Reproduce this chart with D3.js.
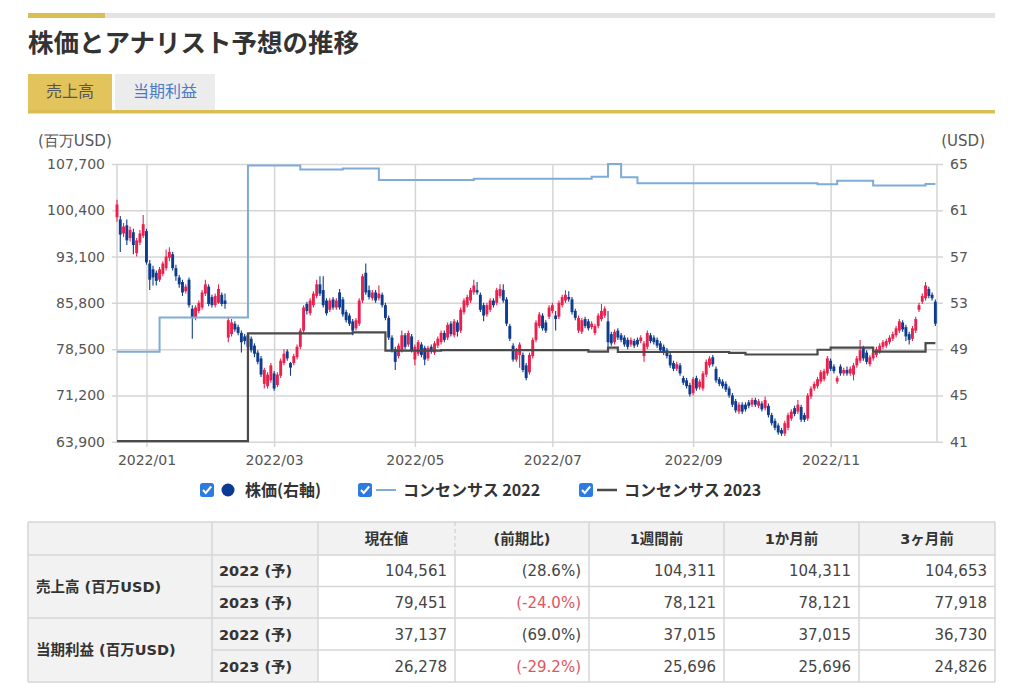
<!DOCTYPE html>
<html><head><meta charset="utf-8">
<script src="https://cdn.jsdelivr.net/npm/d3@7"></script>
<style>
body{margin:0;background:#fff;}
svg{display:block;font-family:"DejaVu Sans",Verdana,"Noto Sans CJK JP",sans-serif;}
</style></head><body>
<svg id="c" width="1024" height="683"></svg>
<script>
// ---------- DATA ----------
const titleText = "株価とアナリスト予想の推移";
const tabLabels = ["売上高", "当期利益"];
const leftAxisTitle = "(百万USD)";
const rightAxisTitle = "(USD)";
const leftTicks = [63900, 71200, 78500, 85800, 93100, 100400, 107700];
const rightTicks = [41, 45, 49, 53, 57, 61, 65];
// trading-day index (0 = 2022/01/03)
const monthTickIndex = [0, 39, 82, 124, 167, 209];
const monthTickLabels = ["2022/01", "2022/03", "2022/05", "2022/07", "2022/09", "2022/11"];
const startIndex = -9;   // first candle: 2021/12/20
// daily candles [open, high, low, close] in USD
const priceOHLC = [
[60.4,61.9,60.0,61.5],[60.2,60.5,57.4,58.9],[59.0,59.9,58.7,59.6],[59.7,60.2,58.0,58.4],[58.6,59.6,58.3,59.3],
[59.1,59.4,57.2,58.0],[57.3,58.6,57.0,58.4],[58.2,59.3,58.0,59.0],[58.8,60.6,58.6,59.8],[59.2,59.4,56.3,56.5],
[56.4,56.7,54.1,55.0],[55.9,56.2,54.5,55.2],[55.6,55.8,54.5,54.9],[55.0,56.1,54.8,55.9],[55.5,56.6,55.3,56.4],
[56.0,57.6,55.8,57.0],[56.9,57.8,56.6,57.4],[57.2,57.4,55.8,56.0],[56.0,56.3,54.9,55.3],[55.2,55.4,54.3,54.6],
[54.8,55.0,53.6,53.9],[54.0,54.6,53.8,54.4],[55.0,55.2,52.6,52.8],[52.5,52.8,49.9,51.7],[51.7,52.8,51.5,52.6],
[52.3,53.2,52.1,53.0],[52.6,54.1,52.4,53.9],[53.8,55.0,53.6,54.6],[54.4,54.6,52.7,52.9],[53.5,53.7,52.6,52.8],
[52.8,53.8,52.6,53.6],[53.0,54.6,52.9,54.2],[53.7,53.9,52.7,52.9],[53.2,53.8,52.5,52.9],[50.0,51.8,49.6,51.5],
[50.3,51.6,50.1,51.3],[51.2,51.4,50.5,50.7],[50.9,51.1,50.2,50.4],[50.4,50.6,48.7,49.6],[50.1,50.3,49.4,49.7],
[50.2,50.4,49.0,49.2],[49.9,50.1,48.7,48.9],[49.3,49.5,48.3,48.6],[48.7,48.9,47.7,47.9],[48.2,48.4,46.6,46.8],
[46.0,47.4,45.6,47.2],[45.8,47.0,45.6,46.8],[46.3,47.8,46.1,47.6],[46.9,47.1,45.4,45.6],[45.9,47.0,45.7,46.8],
[46.7,48.2,46.5,48.0],[47.8,49.0,47.6,48.6],[48.8,49.0,48.0,48.2],[47.8,47.9,46.7,47.4],[47.8,48.6,47.6,48.4],
[48.3,49.4,48.1,49.2],[49.2,50.8,49.0,50.6],[50.6,52.8,50.4,52.6],[52.9,53.1,52.0,52.3],[52.1,53.4,51.9,53.2],
[52.8,54.0,52.6,53.8],[53.6,55.0,53.4,54.6],[54.6,55.3,53.6,53.8],[54.1,55.3,52.6,52.8],[53.2,53.4,51.9,52.1],
[52.4,53.4,52.2,53.2],[53.3,53.5,52.4,52.6],[52.6,53.4,52.4,53.2],[53.9,54.2,52.4,52.6],[53.3,53.5,51.8,52.0],
[52.2,52.4,51.3,51.5],[51.9,52.1,51.0,51.2],[51.4,51.6,50.2,50.6],[50.8,51.7,50.6,51.5],[51.2,53.4,51.0,53.2],
[53.2,55.5,53.0,55.3],[55.6,56.4,53.7,53.9],[54.1,54.5,53.3,53.5],[53.4,54.1,53.2,53.9],[53.9,54.1,53.0,53.2],
[53.4,54.5,53.2,53.8],[53.7,53.9,52.6,52.8],[52.8,53.0,51.5,51.7],[51.7,51.9,49.8,50.0],[50.0,50.2,48.7,48.9],
[49.0,49.2,47.2,47.9],[48.4,49.5,48.2,49.3],[48.9,50.6,48.7,50.2],[50.2,50.4,49.0,49.2],[49.4,50.6,49.2,50.4],
[50.1,50.3,48.7,48.9],[48.1,49.4,47.6,49.2],[48.6,49.8,48.4,49.6],[49.4,49.6,48.3,48.5],[49.1,49.3,47.6,48.1],
[48.2,49.3,48.0,49.1],[49.2,49.4,48.6,48.8],[48.7,49.7,48.5,49.5],[49.3,50.1,49.1,49.9],[49.6,50.6,49.4,50.4],
[50.4,50.6,49.6,49.8],[50.0,51.3,49.8,51.1],[51.2,51.4,50.1,50.3],[50.2,51.6,50.0,51.4],[51.3,51.5,50.1,50.5],
[50.6,52.6,50.4,52.4],[52.2,53.4,52.0,53.2],[52.8,53.7,52.6,53.5],[53.2,54.3,53.0,54.1],[53.9,55.0,53.7,54.5],
[54.1,54.8,53.7,53.9],[53.7,53.9,52.2,52.4],[52.8,53.0,51.4,51.9],[52.0,53.0,51.8,52.8],[52.4,53.4,52.2,53.2],
[53.2,53.4,52.6,52.8],[53.0,54.3,52.8,54.1],[53.6,54.6,53.4,54.2],[54.1,54.6,53.0,53.2],[53.3,53.5,51.0,51.2],
[51.0,51.2,49.7,49.9],[49.3,49.5,47.9,48.1],[48.1,49.1,47.9,48.9],[48.5,49.6,47.4,49.4],[48.5,48.7,47.0,47.2],
[47.6,47.8,46.3,46.5],[47.0,48.7,46.8,48.5],[48.4,50.0,48.2,49.8],[49.8,51.5,49.6,51.3],[51.0,52.2,50.8,52.0],
[51.9,52.1,50.6,50.8],[51.3,51.5,50.4,50.6],[51.8,52.8,51.6,52.6],[52.3,53.0,52.1,52.8],[51.9,52.3,50.6,51.6],
[51.8,53.2,51.6,53.0],[52.8,53.7,52.6,53.5],[53.2,54.1,53.0,53.7],[53.5,54.0,53.1,53.3],[53.3,53.5,52.0,52.2],
[52.3,52.5,51.5,51.7],[50.6,51.9,50.4,51.7],[50.5,51.7,50.3,51.5],[51.6,51.8,50.8,51.0],[51.4,51.6,50.6,50.8],
[50.9,51.4,50.7,51.2],[50.4,51.2,50.2,51.0],[51.0,52.1,50.8,51.9],[51.6,52.9,51.4,52.3],[51.9,52.7,51.7,52.5],
[51.4,52.3,49.2,49.6],[50.3,50.5,49.3,49.5],[49.6,50.7,49.4,50.5],[50.6,50.8,49.8,50.0],[50.2,50.4,49.6,49.8],
[50.0,50.2,49.2,49.4],[49.8,50.0,49.0,49.2],[49.4,50.0,49.2,49.8],[49.7,49.9,49.1,49.3],[49.8,50.0,49.2,49.4],
[49.7,50.2,49.5,50.0],[48.4,49.7,47.9,49.5],[49.2,50.6,49.0,50.4],[50.2,50.4,49.5,49.7],[50.0,50.2,49.4,49.6],
[49.8,50.0,49.1,49.3],[49.5,49.7,48.7,48.9],[49.2,49.4,48.5,48.7],[48.9,49.1,48.2,48.4],[48.5,48.7,47.4,47.6],
[47.8,48.0,47.1,47.3],[47.3,47.9,47.1,47.7],[47.6,47.8,46.7,46.9],[46.5,46.7,45.9,46.1],[46.3,46.5,45.6,45.8],
[45.9,46.1,44.9,45.1],[45.2,46.6,45.0,46.4],[46.5,46.7,45.4,45.6],[45.7,46.4,45.5,46.2],[45.6,47.1,45.4,46.9],
[46.8,48.1,46.6,47.9],[47.6,48.4,47.4,48.2],[48.3,48.5,47.5,47.7],[47.3,47.5,46.1,46.3],[46.4,46.6,45.8,46.0],
[46.2,46.4,45.6,45.8],[46.0,46.2,45.3,45.5],[45.6,45.8,44.8,45.0],[45.0,45.2,44.0,44.2],[44.5,44.7,43.5,43.7],
[43.6,44.4,43.4,44.2],[44.2,44.4,43.4,43.6],[44.2,44.4,43.6,43.8],[44.4,44.6,43.9,44.1],[44.2,44.8,44.0,44.6],
[44.6,44.8,44.0,44.2],[44.1,44.7,43.9,44.5],[44.3,44.5,43.6,43.8],[43.9,44.9,43.7,44.6],[44.1,44.3,43.1,43.3],
[43.3,43.5,42.4,42.6],[42.8,43.0,42.0,42.2],[42.4,42.6,41.6,41.8],[42.0,42.2,41.5,41.7],[41.7,42.8,41.5,42.6],
[42.2,43.5,42.0,43.3],[43.0,43.8,42.8,43.6],[43.9,44.1,43.2,43.4],[43.6,44.6,43.4,44.2],[44.0,44.2,42.7,42.9],
[43.3,43.5,42.7,42.9],[43.0,45.2,42.8,45.0],[44.9,45.8,44.7,45.6],[45.6,46.2,45.4,46.0],[45.8,46.6,45.6,46.4],
[46.2,47.2,46.0,47.0],[46.4,47.3,46.2,47.1],[46.9,48.4,46.7,48.2],[48.0,48.2,47.1,47.3],[47.5,47.7,46.9,47.1],
[46.2,46.7,46.0,46.5],[47.5,47.7,46.7,46.9],[46.9,47.4,46.7,47.2],[47.2,47.5,46.7,46.9],[46.9,47.5,46.7,47.3],
[46.8,47.8,46.3,47.6],[47.6,48.4,47.4,48.2],[48.0,49.8,47.8,48.9],[49.1,49.3,48.0,48.2],[48.7,48.9,47.7,47.9],
[47.7,48.5,47.5,48.3],[48.2,48.9,48.0,48.7],[48.5,49.2,48.3,49.0],[48.8,49.5,48.6,49.3],[49.2,49.8,49.0,49.6],
[49.3,49.9,49.1,49.7],[49.6,50.2,49.4,50.0],[49.9,50.5,49.7,50.3],[50.2,51.0,50.0,50.8],[50.6,51.6,50.4,51.4],
[51.3,51.5,50.5,50.7],[50.9,51.1,49.7,50.1],[50.3,50.5,49.4,49.8],[49.9,51.0,49.7,50.8],[50.6,51.8,50.4,51.6],
[52.4,53.0,52.2,52.8],[53.1,53.8,52.9,53.6],[53.4,54.8,53.2,54.5],[54.2,54.4,53.4,53.6],[53.7,53.9,53.2,53.4],
[53.1,53.3,51.0,51.2]
];
// consensus revenue forecasts (百万USD), [trading-day index where value starts, value]
const consensus2022 = [[-9,78100],[4,83500],[31,107450],[47,106850],[60,107000],[71,105180],[100,105380],
  [136,105700],[141,107700],[145,105600],[150,104653],[205,104500],[211,105070],[222,104311],[238,104561],[241,104561]];
const consensus2023 = [[-9,64000],[31,81000],[63,81150],[73,78260],[90,78350],[135,78100],[141,78730],
  [144,78050],[178,77918],[183,77650],[205,78400],[209,78750],[222,78121],[238,79451],[241,79451]];
const legendLabels = ["株価(右軸)", "コンセンサス 2022", "コンセンサス 2023"];
// table
const tableHeaders = ["現在値", "(前期比)", "1週間前", "1か月前", "3ヶ月前"];
const tableGroups = ["売上高 (百万USD)", "当期利益 (百万USD)"];
const tableYears = ["2022 (予)", "2023 (予)", "2022 (予)", "2023 (予)"];
const tableCurrent = ["104,561", "79,451", "37,137", "26,278"];
const tableChange = ["(28.6%)", "(-24.0%)", "(69.0%)", "(-29.2%)"];
const table1W = ["104,311", "78,121", "37,015", "25,696"];
const table1M = ["104,311", "78,121", "37,015", "25,696"];
const table3M = ["104,653", "77,918", "36,730", "24,826"];

// ---------- DRAW ----------
const svg = d3.select("#c");
const UP = "#e9214f", DOWN = "#0f3c8f", C22 = "#7eabd8", C23 = "#4a4a4a";
const GOLD = "#dcbd52", GRID = "#d5d5d5";
const cjk = '"Noto Sans CJK JP","DejaVu Sans",sans-serif';

// header bar
svg.append("rect").attr("x",28).attr("y",13).attr("width",967).attr("height",5).attr("fill","#e3e3e3");
svg.append("rect").attr("x",28).attr("y",13).attr("width",77).attr("height",5).attr("fill",GOLD);
svg.append("text").attr("x",28).attr("y",52).text(titleText)
  .attr("font-family",cjk).attr("font-weight","bold").attr("font-size",25.5).attr("fill","#333");

// tabs
svg.append("rect").attr("x",28).attr("y",74).attr("width",84).attr("height",37).attr("fill","#e2c35c");
svg.append("rect").attr("x",115).attr("y",74).attr("width",100).attr("height",37).attr("fill","#ececec");
svg.append("rect").attr("x",28).attr("y",110).attr("width",967).attr("height",3.5).attr("fill",GOLD);
svg.append("text").attr("x",70).attr("y",97).attr("text-anchor","middle").text(tabLabels[0])
  .attr("font-family",cjk).attr("font-size",16).attr("fill","#555");
svg.append("text").attr("x",165).attr("y",97).attr("text-anchor","middle").text(tabLabels[1])
  .attr("font-family",cjk).attr("font-size",16).attr("fill","#4a7bc8");

// scales
const x = d3.scaleLinear().domain([-9, 241.5]).range([117, 937]);
const yL = d3.scaleLinear().domain([63900, 107700]).range([441.7, 164]);
const yR = d3.scaleLinear().domain([41, 65]).range([441.7, 164]);

// axis titles
svg.append("text").attr("x",38).attr("y",146).text(leftAxisTitle).attr("font-family","DejaVu Sans").attr("font-size",15).attr("fill","#555");
svg.append("text").attr("x",985).attr("y",146).attr("text-anchor","end").text(rightAxisTitle).attr("font-family","DejaVu Sans").attr("font-size",15).attr("fill","#555");

// left axis + horizontal grid
const gL = svg.append("g").attr("transform","translate(112,0)")
  .call(d3.axisLeft(yL).tickValues(leftTicks).tickFormat(d3.format(",")).tickSizeInner(-831).tickSizeOuter(0).tickPadding(7));
gL.select(".domain").remove();
gL.selectAll("line").attr("stroke",GRID).attr("stroke-width",1.5);
gL.selectAll("text").attr("font-size",14).attr("fill","#555").attr("font-family","DejaVu Sans");

// right axis labels
const gR = svg.append("g").attr("transform","translate(937,0)")
  .call(d3.axisRight(yR).tickValues(rightTicks).tickSize(0).tickPadding(13));
gR.select(".domain").remove();
gR.selectAll("text").attr("font-size",14).attr("fill","#555").attr("font-family","DejaVu Sans");

// bottom axis + vertical grid
const gB = svg.append("g").attr("transform","translate(0,447)")
  .call(d3.axisBottom(x).tickValues(monthTickIndex).tickFormat((d,i)=>monthTickLabels[i]).tickSizeInner(-283).tickSizeOuter(0).tickPadding(8));
gB.select(".domain").remove();
gB.selectAll("line").attr("stroke",GRID).attr("stroke-width",1.5);
gB.selectAll("text").attr("font-size",14).attr("fill","#555").attr("font-family","DejaVu Sans");

// plot side borders
[117, 937].forEach(px => svg.append("line").attr("x1",px).attr("x2",px).attr("y1",164).attr("y2",441.7)
  .attr("stroke",GRID).attr("stroke-width",1.5));

// candles
const candles = priceOHLC.map((d,k)=>({i:startIndex+k,o:d[0],h:d[1],l:d[2],c:d[3]}));
const gc = svg.append("g");
gc.selectAll("line.w").data(candles).join("line")
  .attr("x1",d=>x(d.i)).attr("x2",d=>x(d.i)).attr("y1",d=>yR(d.h)).attr("y2",d=>yR(d.l))
  .attr("stroke",d=>d.c>=d.o?UP:DOWN).attr("stroke-width",1.1);
gc.selectAll("rect").data(candles).join("rect")
  .attr("x",d=>x(d.i)-1.45).attr("width",2.9)
  .attr("y",d=>yR(Math.max(d.o,d.c)))
  .attr("height",d=>Math.max(1.2,Math.abs(yR(d.o)-yR(d.c))))
  .attr("fill",d=>d.c>=d.o?UP:DOWN);

// consensus lines
const stepLine = d3.line().x(d=>x(d[0])).y(d=>yL(d[1])).curve(d3.curveStepAfter);
svg.append("path").datum(consensus2022).attr("d",stepLine).attr("fill","none").attr("stroke",C22).attr("stroke-width",2);
svg.append("path").datum(consensus2023).attr("d",stepLine).attr("fill","none").attr("stroke",C23).attr("stroke-width",2.2);

// legend
function checkbox(cx, cy){
  svg.append("rect").attr("x",cx-7).attr("y",cy-7).attr("width",14).attr("height",14).attr("rx",2.5).attr("fill","#2c7be0");
  svg.append("path").attr("d",`M${cx-4},${cy} L${cx-1.2},${cy+3} L${cx+4.2},${cy-3.5}`)
    .attr("fill","none").attr("stroke","#fff").attr("stroke-width",2);
}
const ly = 490;
checkbox(207, ly);
svg.append("circle").attr("cx",228).attr("cy",ly).attr("r",6.5).attr("fill","#0b3a94");
svg.append("text").attr("x",245).attr("y",ly+6).text(legendLabels[0]).attr("font-family",cjk).attr("font-weight","bold").attr("font-size",16).attr("fill","#333");
checkbox(365, ly);
svg.append("line").attr("x1",376).attr("x2",396).attr("y1",ly).attr("y2",ly).attr("stroke",C22).attr("stroke-width",2);
svg.append("text").attr("x",403).attr("y",ly+6).text(legendLabels[1]).attr("font-family",cjk).attr("font-weight","bold").attr("font-size",16).attr("fill","#333");
checkbox(586, ly);
svg.append("line").attr("x1",597).attr("x2",617).attr("y1",ly).attr("y2",ly).attr("stroke",C23).attr("stroke-width",2.5);
svg.append("text").attr("x",624).attr("y",ly+6).text(legendLabels[2]).attr("font-family",cjk).attr("font-weight","bold").attr("font-size",16).attr("fill","#333");

// table
const colX = [28, 212, 318, 455, 589, 724, 859, 995];
const rowY = [522, 555, 586.5, 618, 650, 682];
const TB = "#d6d6d6", HB = "#f2f2f2";
const gt = svg.append("g");
gt.append("rect").attr("x",colX[0]).attr("y",rowY[0]).attr("width",colX[7]-colX[0]).attr("height",rowY[1]-rowY[0]).attr("fill",HB);
gt.append("rect").attr("x",colX[0]).attr("y",rowY[1]).attr("width",colX[2]-colX[0]).attr("height",rowY[5]-rowY[1]).attr("fill",HB);
// horizontal borders
rowY.forEach((yy,r)=>{
  const x0 = (r===2||r===4) ? colX[1] : colX[0];
  gt.append("line").attr("x1",x0).attr("x2",colX[7]).attr("y1",yy).attr("y2",yy).attr("stroke",TB).attr("stroke-width",1.5);
});
// vertical borders
colX.forEach((xx,c)=>{
  if(c===3){
    gt.append("line").attr("x1",xx).attr("x2",xx).attr("y1",rowY[0]).attr("y2",rowY[1]).attr("stroke","#c8c8c8").attr("stroke-dasharray","4,3");
    gt.append("line").attr("x1",xx).attr("x2",xx).attr("y1",rowY[1]).attr("y2",rowY[5]).attr("stroke",TB).attr("stroke-width",1.5);
  } else {
    gt.append("line").attr("x1",xx).attr("x2",xx).attr("y1",rowY[0]).attr("y2",rowY[5]).attr("stroke",TB).attr("stroke-width",1.5);
  }
});
const tf = '"DejaVu Sans","Noto Sans CJK JP",sans-serif';
tableHeaders.forEach((h,k)=>{
  gt.append("text").attr("x",(colX[k+2]+colX[k+3])/2).attr("y",543.5).attr("text-anchor","middle").text(h)
    .attr("font-family",tf).attr("font-weight","bold").attr("font-size",14.5).attr("fill","#333");
});
tableGroups.forEach((g,k)=>{
  gt.append("text").attr("x",36).attr("y",(rowY[1+2*k]+rowY[3+2*k])/2+5).text(g)
    .attr("font-family",tf).attr("font-weight","bold").attr("font-size",14.5).attr("fill","#333");
});
const cols = [tableCurrent, tableChange, table1W, table1M, table3M];
tableYears.forEach((yr,r)=>{
  const cy = (rowY[1+r]+rowY[2+r])/2+5.5;
  gt.append("text").attr("x",219).attr("y",cy).text(yr)
    .attr("font-family",tf).attr("font-weight","bold").attr("font-size",14.5).attr("fill","#333");
  cols.forEach((arr,k)=>{
    const v = arr[r];
    gt.append("text").attr("x",colX[k+3]-8).attr("y",cy).attr("text-anchor","end").text(v)
      .attr("font-family",tf).attr("font-size",15).attr("fill", v.indexOf("(-")===0 ? "#e05560" : "#444");
  });
});
</script>
</body></html>
